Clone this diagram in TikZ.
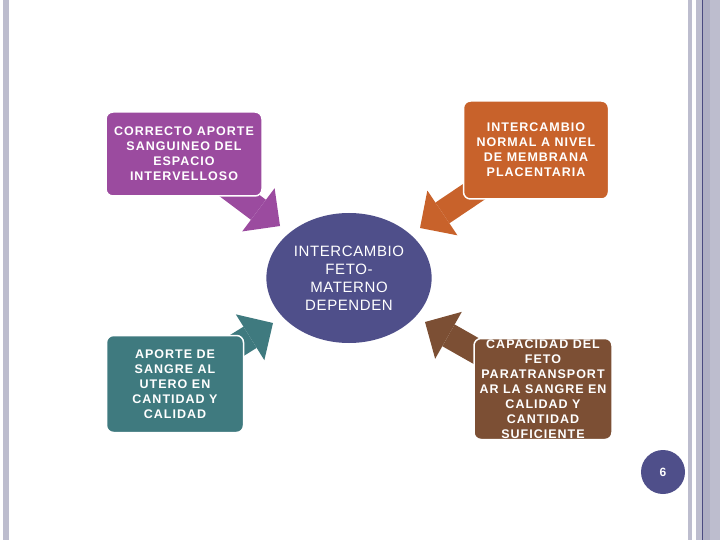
\documentclass[tikz,border=0pt]{standalone}
\usepackage{fontspec}
\setmainfont{Liberation Sans}
\newfontfamily\spaced[LetterSpace=8]{Liberation Sans}
\newfontfamily\spacedmid[LetterSpace=4]{Liberation Sans}
\usetikzlibrary{arrows.meta,backgrounds,shapes.geometric}
\definecolor{purp}{HTML}{9B4B9F}
\definecolor{orng}{HTML}{C8622B}
\definecolor{slate}{HTML}{4F4F8A}
\definecolor{teal}{HTML}{3F7A7F}
\definecolor{brwn}{HTML}{7C4F34}
\definecolor{barA}{HTML}{BDBDCE}
\definecolor{barB}{HTML}{AFAFC3}
\definecolor{barC}{HTML}{4B4B80}
\tikzset{
  boxtxt/.style={text=white,align=center,font=\spaced\fontsize{12.5}{15}\selectfont\bfseries},
  box/.style={boxtxt,rectangle,rounded corners=7pt,draw=white,line width=1.5pt,inner sep=0pt},
  blk/.style={line width=25pt,-{Triangle[length=27pt,width=54pt,line width=0pt]}},
}
\begin{document}
\begin{tikzpicture}[x=1pt,y=-1pt]
\useasboundingbox (0,0) rectangle (720,540);
% side bars
\fill[barA] (3,0) rectangle (8.5,540);
\fill[barA] (687.5,0) rectangle (692,540);
\fill[barA] (695.5,0) rectangle (720,540);
\fill[barB] (703,0) rectangle (710,540);
\draw[barC,line width=0.8pt] (702.5,0) -- (702.5,540);

% centre
\node[ellipse,fill=slate,minimum width=154pt,minimum height=130pt,text=white,align=center,
      font=\spacedmid\fontsize{15}{18}\selectfont] (fm) at (349,278)
      {INTERCAMBIO\\FETO-\\MATERNO\\DEPENDEN};

% the four boxes
\node[box,fill=purp,minimum width=156pt,minimum height=84pt] (apo) at (184,154)
      {CORRECTO APORTE\\SANGUINEO DEL\\ESPACIO\\INTERVELLOSO};
\node[box,fill=orng,minimum width=145pt,minimum height=98pt] (mem) at (536,150)
      {INTERCAMBIO\\NORMAL A NIVEL\\DE MEMBRANA\\PLACENTARIA};
\node[box,fill=teal,minimum width=137pt,minimum height=97pt] (ute) at (175,384)
      {APORTE DE\\SANGRE AL\\UTERO EN\\CANTIDAD Y\\CALIDAD};
\node[box,fill=brwn,minimum width=138pt,minimum height=101pt,
      path picture={\node[boxtxt] at (path picture bounding box.center)
      {CAPACIDAD DEL\\FETO\\PARATRANSPORT\\AR LA SANGRE EN\\CALIDAD Y\\CANTIDAD\\SUFICIENTE};}]
      (cap) at (543,389) {};

% arrow tips
\coordinate (tApo) at (280,226);
\coordinate (tMem) at (420,228);
\coordinate (tUte) at (273,323);
\coordinate (tCap) at (425,322);

\begin{scope}[on background layer]
  \draw[blk,purp] (apo.center) -- (tApo);
  \draw[blk,orng] (mem.center) -- (tMem);
  \draw[blk,teal] (ute.center) -- (tUte);
  \draw[blk,brwn] (cap.center) -- (tCap);
\end{scope}

% page number
\node[circle,fill=slate,minimum size=44pt,text=white,font=\fontsize{12}{14}\selectfont\bfseries] (pg) at (663,472) {6};
\end{tikzpicture}
\end{document}
